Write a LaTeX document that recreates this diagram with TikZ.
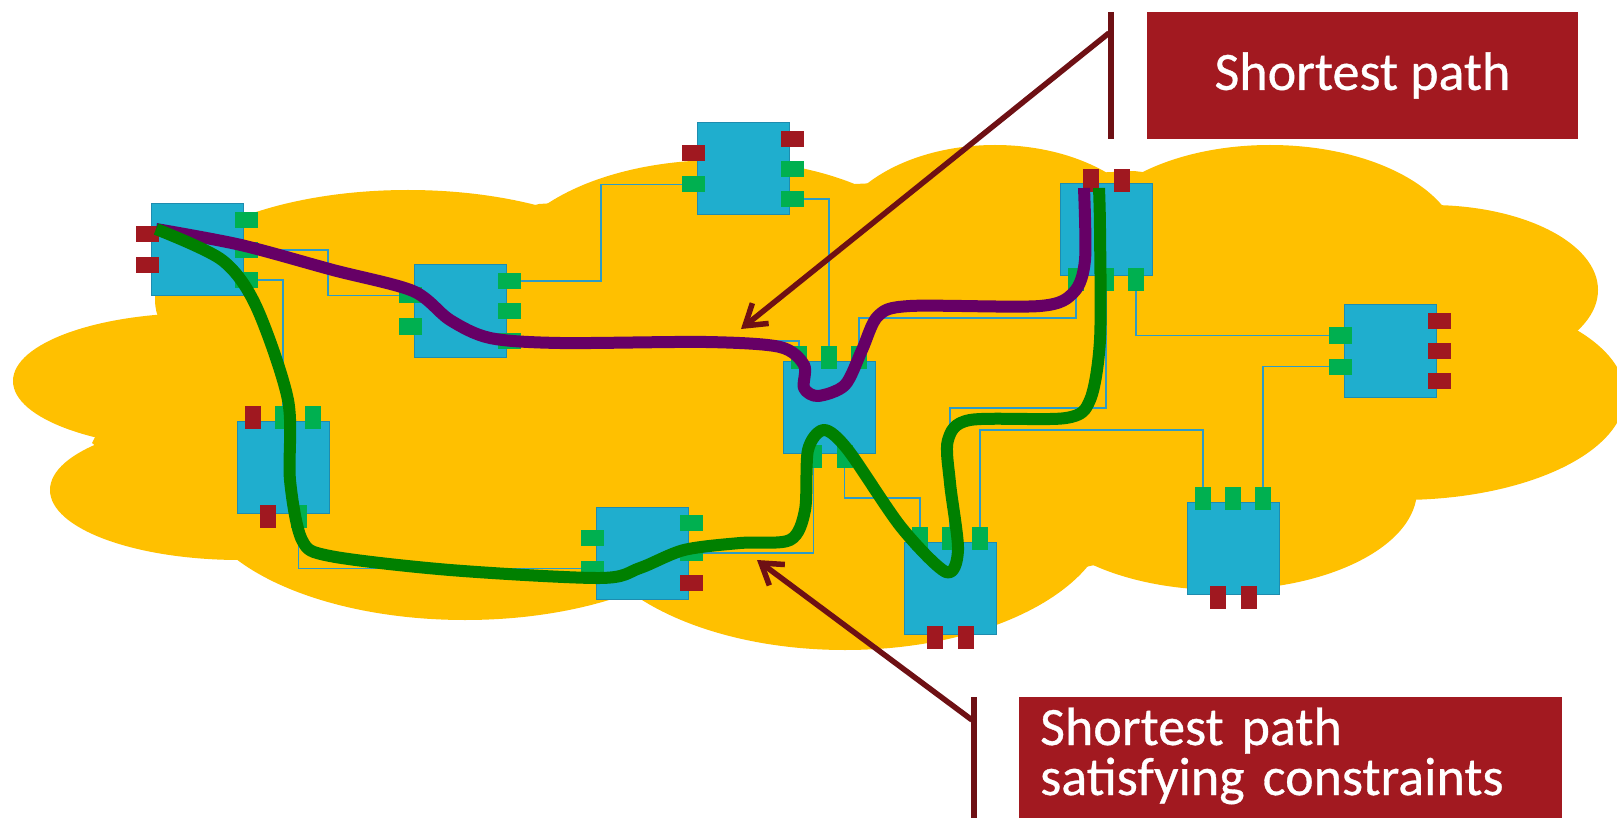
\documentclass[tikz,border=0pt]{standalone}
\usepackage{fontspec}
\setmainfont{Carlito}
\newfontfamily\labelfont[FakeBold=0.6]{Carlito}
\usetikzlibrary{arrows.meta}

\definecolor{cloudyellow}{RGB}{255,192,0}
\definecolor{unitblue}{RGB}{31,174,206}
\definecolor{unitedge}{RGB}{30,140,175}
\definecolor{portgreen}{RGB}{0,176,80}
\definecolor{portred}{RGB}{160,24,32}
\definecolor{wireblue}{RGB}{45,155,200}
\definecolor{pathpurple}{RGB}{102,0,102}
\definecolor{pathgreen}{RGB}{0,128,0}
\definecolor{pointerred}{RGB}{110,16,20}
\definecolor{labelred}{RGB}{162,25,32}

\tikzset{
  unit/.style={rectangle, fill=unitblue, draw=unitedge, line width=1pt,
    minimum width=92pt, minimum height=92pt, inner sep=0pt},
  hport/.style={rectangle, minimum width=23pt, minimum height=16pt, inner sep=0pt},
  vport/.style={rectangle, minimum width=16pt, minimum height=23pt, inner sep=0pt},
  wire/.style={draw=wireblue, line width=1.8pt},
  route/.style={line width=12pt, line join=round},
  bar/.style={draw=pointerred, line width=5.5pt},
  pointer/.style={draw=pointerred, line width=5.5pt,
    -{Straight Barb[length=20pt, width=26pt]}},
  labelbox/.style={rectangle, fill=labelred, text=white, inner sep=0pt,
    font=\labelfont\fontsize{54}{50}\selectfont},
  labeltext/.style={text=white, inner sep=0pt, text width=520pt, align=left,
    font=\labelfont\fontsize{54}{50}\selectfont}
}

\begin{document}
\begin{tikzpicture}[x=1pt,y=-1pt]
\useasboundingbox (0,0) rectangle (1617,818);

% cloud
\fill[cloudyellow] (408,300) ellipse (253 and 110);
\fill[cloudyellow] (720,275) ellipse (220 and 115);
\fill[cloudyellow] (995,250) ellipse (165 and 105);
\fill[cloudyellow] (1270,250) ellipse (190 and 105);
\fill[cloudyellow] (1430,290) ellipse (168 and 85);
\fill[cloudyellow] (1400,395) ellipse (225 and 105);
\fill[cloudyellow] (1222,490) ellipse (195 and 100);
\fill[cloudyellow] (845,510) ellipse (265 and 140);
\fill[cloudyellow] (465,490) ellipse (270 and 130);
\fill[cloudyellow] (240,490) ellipse (190 and 70);
\fill[cloudyellow] (200,381) ellipse (187 and 68);
\fill[cloudyellow] (160,300) -- (160,313) -- (92,443) -- (233,558) -- (633,592)
  -- (1081,568) -- (1412,495) -- (1582,324) -- (1451,209) -- (1134,171)
  -- (855,184) -- (539,204) -- cycle;

% units
\node[unit] (A) at (197,250) {};
\node[unit] (B) at (460,311) {};
\node[unit] (C) at (743,169) {};
\node[unit] (D) at (829,407) {};
\node[unit] (E) at (1106,230) {};
\node[unit] (F) at (1390,351) {};
\node[unit] (G) at (283,467) {};
\node[unit] (H) at (642,553) {};
\node[unit] (I) at (950,588) {};
\node[unit] (J) at (1233,548) {};

% ports
\node[hport, fill=portred] (A-l1) at (147.5,234.5) {};
\node[hport, fill=portred] (A-l2) at (147.5,265.5) {};
\node[hport, fill=portgreen] (A-r1) at (246.5,220) {};
\node[hport, fill=portgreen] (A-r2) at (246.5,250) {};
\node[hport, fill=portgreen] (A-r3) at (246.5,280) {};

\node[hport, fill=portgreen] (B-l1) at (410.5,295.5) {};
\node[hport, fill=portgreen] (B-l2) at (410.5,326.5) {};
\node[hport, fill=portgreen] (B-r1) at (509.5,281) {};
\node[hport, fill=portgreen] (B-r2) at (509.5,311) {};
\node[hport, fill=portgreen] (B-r3) at (509.5,341) {};

\node[hport, fill=portred] (C-l1) at (693.5,153.5) {};
\node[hport, fill=portgreen] (C-l2) at (693.5,184.5) {};
\node[hport, fill=portred] (C-r1) at (792.5,139) {};
\node[hport, fill=portgreen] (C-r2) at (792.5,169) {};
\node[hport, fill=portgreen] (C-r3) at (792.5,199) {};

\node[vport, fill=portgreen] (D-t1) at (799,357.5) {};
\node[vport, fill=portgreen] (D-t2) at (829,357.5) {};
\node[vport, fill=portgreen] (D-t3) at (859,357.5) {};
\node[vport, fill=portgreen] (D-b1) at (813.5,456.5) {};
\node[vport, fill=portgreen] (D-b2) at (844.5,456.5) {};

\node[vport, fill=portred] (E-t1) at (1090.5,180.5) {};
\node[vport, fill=portred] (E-t2) at (1121.5,180.5) {};
\node[vport, fill=portgreen] (E-b1) at (1076,279.5) {};
\node[vport, fill=portgreen] (E-b2) at (1106,279.5) {};
\node[vport, fill=portgreen] (E-b3) at (1136,279.5) {};

\node[hport, fill=portgreen] (F-l1) at (1340.5,335.5) {};
\node[hport, fill=portgreen] (F-l2) at (1340.5,366.5) {};
\node[hport, fill=portred] (F-r1) at (1439.5,321) {};
\node[hport, fill=portred] (F-r2) at (1439.5,351) {};
\node[hport, fill=portred] (F-r3) at (1439.5,381) {};

\node[vport, fill=portred] (G-t1) at (253,417.5) {};
\node[vport, fill=portgreen] (G-t2) at (283,417.5) {};
\node[vport, fill=portgreen] (G-t3) at (313,417.5) {};
\node[vport, fill=portred] (G-b1) at (267.5,516.5) {};
\node[vport, fill=portgreen] (G-b2) at (298.5,516.5) {};

\node[hport, fill=portgreen] (H-l1) at (592.5,537.5) {};
\node[hport, fill=portgreen] (H-l2) at (592.5,568.5) {};
\node[hport, fill=portgreen] (H-r1) at (691.5,523) {};
\node[hport, fill=portgreen] (H-r2) at (691.5,553) {};
\node[hport, fill=portred] (H-r3) at (691.5,583) {};

\node[vport, fill=portgreen] (I-t1) at (920,538.5) {};
\node[vport, fill=portgreen] (I-t2) at (950,538.5) {};
\node[vport, fill=portgreen] (I-t3) at (980,538.5) {};
\node[vport, fill=portred] (I-b1) at (934.5,637.5) {};
\node[vport, fill=portred] (I-b2) at (965.5,637.5) {};

\node[vport, fill=portgreen] (J-t1) at (1203,498.5) {};
\node[vport, fill=portgreen] (J-t2) at (1233,498.5) {};
\node[vport, fill=portgreen] (J-t3) at (1263,498.5) {};
\node[vport, fill=portred] (J-b1) at (1217.5,597.5) {};
\node[vport, fill=portred] (J-b2) at (1248.5,597.5) {};

% wires
\draw[wire] (A-r2.east) -- (328,250) |- (B-l1.west);
\draw[wire] (A-r3.east) -| (G-t2.north);
\draw[wire] (B-r1.east) -- (601,281) |- (C-l2.west);
\draw[wire] (C-r3.east) -| (D-t2.north);
\draw[wire] (B-r3.east) -| (D-t1.north);
\draw[wire] (D-t3.north) -- (859,318) -| (E-b1.south);
\draw[wire] (E-b2.south) -- (1106,408) -| (I-t2.north);
\draw[wire] (E-b3.south) |- (F-l1.west);
\draw[wire] (F-l2.west) -| (J-t3.north);
\draw[wire] (J-t1.north) -- (1203,430) -| (I-t3.north);
\draw[wire] (D-b2.south) -- (844.5,498) -| (I-t1.north);
\draw[wire] (D-b1.south) |- (H-r2.east);
\draw[wire] (H-l2.west) -| (G-b2.south);

% routes
\coordinate (src) at (156,229);
\coordinate (dst-short) at (1084,188);
\coordinate (dst-cons) at (1099,188);
\draw[route, pathpurple] plot[smooth] coordinates {(src) (241,245) (333,270)
  (413,291) (450,320) (490,338) (560,343) (706,342) (780,347) (804,365)
  (804,388) (818,396) (845,385) (862,350) (878,316) (910,306) (1040,306)
  (1074,292) (1085,260) (dst-short)};
\draw[route, pathgreen] plot[smooth] coordinates {(src) (222,260) (256,306)
  (288,400) (290,480) (302,540) (330,556) (450,570) (600,578) (640,568)
  (684,550) (740,543) (790,540) (805,510) (808,450) (824,430) (848,450)
  (901,527) (946,572) (958,550) (950,483) (948,440) (970,420) (1066,418)
  (1090,400) (1100,340) (1100,230) (dst-cons)};

% labels
\node[labelbox, minimum width=431pt, minimum height=127pt] (sp) at (1362.5,75.5) {Shortest path};
\node[labelbox, anchor=north west, minimum width=543pt, minimum height=130pt] (sc) at (1019,697) {};
\node[labeltext, anchor=base west] (sc-text) at (1040,745) {Shortest path\\satisfying constraints};

% pointers
\draw[bar] (1111,12) -- (1111,139);
\coordinate (sp-foot) at (1109,33);
\coordinate (sp-tip) at (741,329);
\draw[pointer] (sp-foot) -- (sp-tip);
\draw[bar] (974,697) -- (974,818);
\coordinate (sc-foot) at (972,720);
\coordinate (sc-tip) at (757,560);
\draw[pointer] (sc-foot) -- (sc-tip);
\end{tikzpicture}
\end{document}
